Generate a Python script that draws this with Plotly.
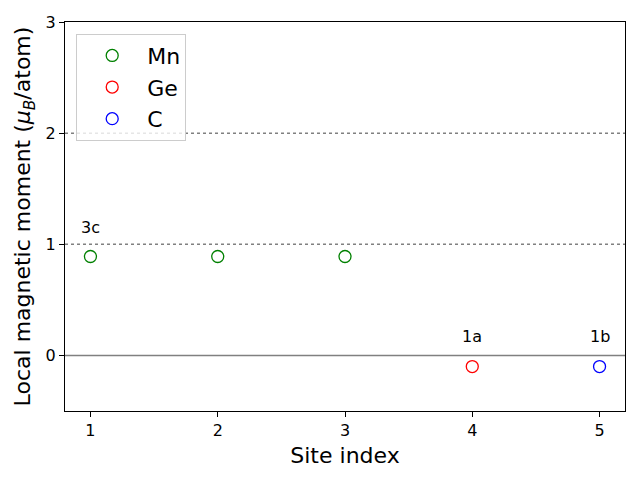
import plotly.graph_objects as go

mn_x = [1, 2, 3]
mn_y = [0.89, 0.89, 0.89]
ge_x = [4]
ge_y = [-0.1]
c_x = [5]
c_y = [-0.1]
site_labels = ["3c", "1a", "1b"]
site_label_x = [1, 4, 5]
site_label_y = [1.05, 0.07, 0.07]
ref_dotted = [1, 2]

fig = go.Figure()
for name, xs, ys, col in [("Mn", mn_x, mn_y, "green"), ("Ge", ge_x, ge_y, "red"), ("C", c_x, c_y, "blue")]:
    fig.add_trace(go.Scatter(x=xs, y=ys, mode="markers", name=name,
                             marker=dict(symbol="circle-open", size=12, color=col, line=dict(width=1.3, color=col))))

for yv in ref_dotted:
    fig.add_hline(y=yv, line=dict(color="gray", width=1.5, dash="dot"), layer="below")
fig.add_hline(y=0, line=dict(color="gray", width=1.5), layer="below")

for t, xv, yv in zip(site_labels, site_label_x, site_label_y):
    fig.add_annotation(x=xv, y=yv, text=t, showarrow=False, yanchor="bottom", xanchor="center",
                       font=dict(size=16, color="black"))

axis_common = dict(showline=True, linecolor="black", linewidth=1, mirror=True, ticks="outside",
                   ticklen=5, tickcolor="black", showgrid=False, zeroline=False,
                   tickfont=dict(size=16, color="black"))
fig.update_xaxes(range=[0.8, 5.2], tickvals=[1, 2, 3, 4, 5],
                 title=dict(text="Site index", font=dict(size=22, color="black"), standoff=8), **axis_common)
fig.update_yaxes(range=[-0.5, 3], tickvals=[0, 1, 2, 3],
                 title=dict(text="Local magnetic moment (<i>μ</i><sub><i>B</i></sub>/atom)", font=dict(size=22, color="black"), standoff=8), **axis_common)

fig.update_layout(
    width=640, height=480,
    margin=dict(l=65, r=15, t=22, b=69),
    plot_bgcolor="white", paper_bgcolor="white",
    font=dict(family="DejaVu Sans", color="black"),
    legend=dict(x=0.02, y=0.97, xanchor="left", yanchor="top", font=dict(size=22),
                bgcolor="rgba(255,255,255,0.8)", bordercolor="#cccccc", borderwidth=1,
                itemwidth=60),
    showlegend=True,
)
fig.write_html("out.html", config={"displayModeBar": False},
               post_script="document.body.style.margin='0';document.body.style.padding='0';")
